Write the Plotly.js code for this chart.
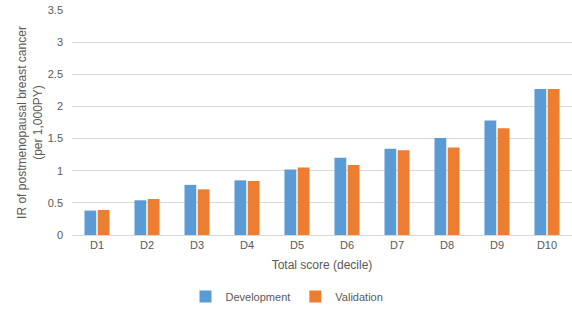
<!DOCTYPE html>
<html><head><meta charset="utf-8">
<script src="https://cdn.plot.ly/plotly-3.0.1.min.js"></script>
<style>html,body{margin:0;padding:0;background:#fff}#c{width:572px;height:311px}</style>
</head><body><div id="c"></div>
<script>
const categories = ["D1","D2","D3","D4","D5","D6","D7","D8","D9","D10"];
const development = [0.38,0.54,0.78,0.85,1.02,1.20,1.34,1.51,1.78,2.27];
const validation  = [0.39,0.56,0.71,0.84,1.05,1.09,1.32,1.36,1.66,2.27];
const yTicks = [0,0.5,1,1.5,2,2.5,3,3.5];
const yTickText = ["0","0.5","1","1.5","2","2.5","3","3.5"];

const font = {family:"Liberation Sans, Arial, sans-serif", color:"#595959", size:11};
const data = [
  {type:"bar", name:"Development", x:categories, y:development, marker:{color:"#5b9bd5"}},
  {type:"bar", name:"Validation", x:categories, y:validation, marker:{color:"#ed7d31"}}
];
const layout = {
  width:572, height:311,
  margin:{l:72,r:0,t:10,b:76, autoexpand:false},
  paper_bgcolor:"#fff", plot_bgcolor:"#fff",
  font:font,
  barmode:"group", bargap:0.47, bargroupgap:0.11,
  showlegend:true,
  legend:{orientation:"h", x:0.43, xanchor:"center", yref:"container", y:0.0, yanchor:"bottom",
          font:{size:11,color:"#595959"}, itemwidth:30, traceorder:"normal", bgcolor:"rgba(0,0,0,0)"},
  xaxis:{
    type:"category", showgrid:false, zeroline:false, showline:true, linecolor:"#d9d9d9", linewidth:1,
    ticks:"", tickfont:{size:11,color:"#595959"},
    title:{text:"Total score (decile)", font:{size:12,color:"#595959"}, standoff:10}
  },
  yaxis:{
    range:[0,3.5], tickvals:yTicks, ticktext:yTickText, showgrid:true, gridcolor:"#d9d9d9", zeroline:false,
    showline:false, ticks:"", tickfont:{size:11,color:"#595959"}, ticklabelstandoff:8,
    title:{text:"IR of postmenopausal breast cancer<br>(per 1,000PY)", font:{size:12,color:"#595959"}, standoff:2}
  }
};
Plotly.newPlot("c", data, layout, {displayModeBar:false, staticPlot:true});
</script></body></html>
